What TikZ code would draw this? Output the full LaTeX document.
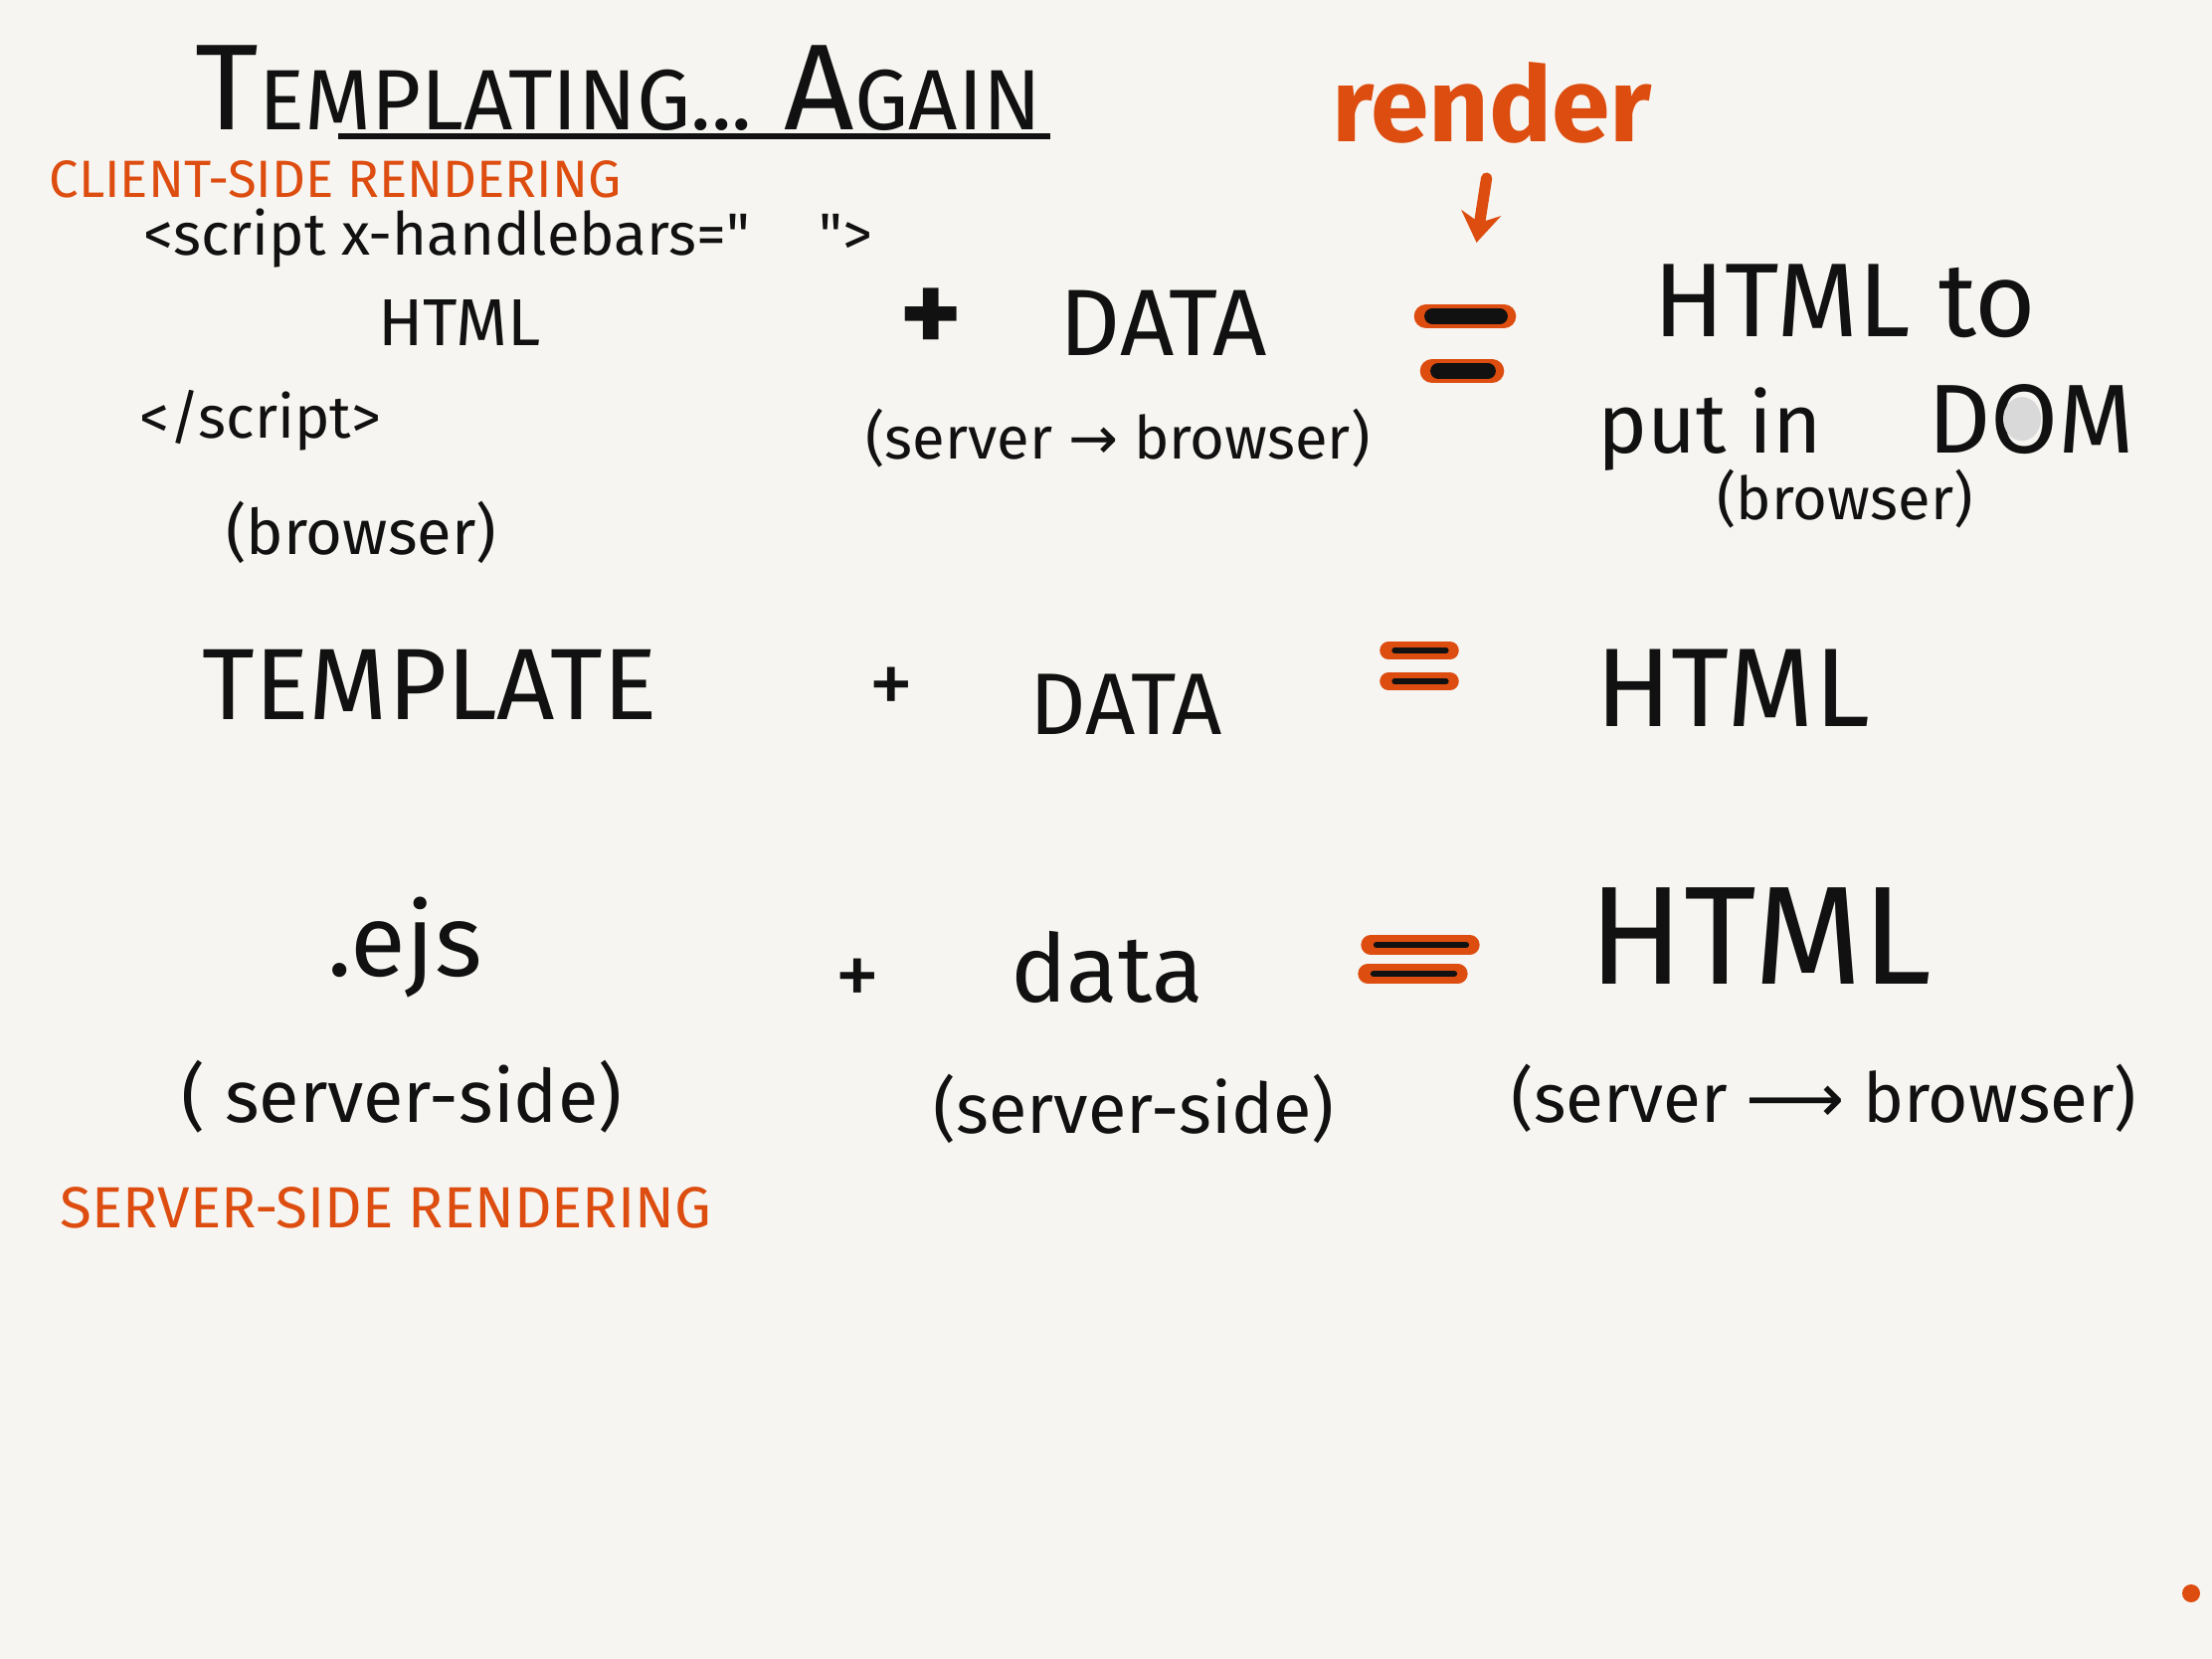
\documentclass[tikz,border=0pt]{standalone}
\usepackage{fontspec}
\setmainfont{Fira Sans}
\newfontfamily\plainfont{Fira Sans}
\newfontfamily\arrowfont{DejaVu Sans}
\usetikzlibrary{arrows.meta, positioning}
\definecolor{paper}{HTML}{F6F5F1}
\definecolor{ink}{HTML}{111111}
\definecolor{marker}{HTML}{DD4D10}
\newcommand{\handsize}[1]{\fontsize{#1}{#1}\selectfont}
\tikzset{
  hand/.style={text=ink, inner sep=0pt, anchor=base},
  note/.style={text=marker, inner sep=0pt, anchor=base},
  highlight/.style={marker, line cap=round},
  stroke/.style={ink, line cap=round},
}

\begin{document}
\begin{tikzpicture}[x=1cm, y=-1cm]
    \path[use as bounding box, fill=paper] (0, 0) rectangle (22.24, 16.68);
    % heading
    \node[hand, font=\handsize{35pt}] (title) at (6.22, 1.30) {T{\handsize{24.5pt}EMPLATING...}\ A{\handsize{24.5pt}GAIN}};
    \draw[ink, line width=1.6pt] (3.40, 1.37) -- (10.56, 1.37);
    \node[note, font=\handsize{15pt}] (client) at (3.37, 1.98) {CLIENT-SIDE RENDERING};
    \node[note, font=\bfseries\handsize{30pt}] (render) at (15.00, 1.42) {render};
    % first row
    \node[hand, font=\plainfont\handsize{17pt}] (open) at (5.11, 2.56) {<script x-handlebars="\hspace{0.7cm}">};
    \node[hand, font=\handsize{19pt}] (tplA) at (4.62, 3.47) {HTML};
    \node[hand, font=\handsize{17pt}] (close) at (2.62, 4.40) {</script>};
    \node[hand, font=\handsize{18pt}] (whereA) at (3.63, 5.57) {(browser)};
    \node[text=ink, inner sep=0pt, font=\bfseries\handsize{34pt}] (plusA) at (9.36, 3.23) {+};
    \node[hand, font=\handsize{27pt}] (dataA) at (11.70, 3.57) {DATA};
    \node[hand, font=\handsize{17pt}] (sendA) at (11.24, 4.61) {(server {\arrowfont →} browser)};
    \coordinate (eqA) at (14.73, 3.18);
    \node[hand, font=\handsize{30pt}] (outA) at (18.55, 3.38) {HTML to};
    \node[hand, font=\handsize{28pt}] (dom) at (20.42, 4.55) {DOM};
    \node[hand, font=\handsize{24pt}, anchor=base east] (put) at ([xshift=-1.05cm]dom.base west) {put in};
    \fill[gray!30] ([xshift=-0.09cm]dom.center) ellipse [x radius=0.19, y radius=0.22];
    \node[hand, font=\handsize{17pt}] (whereC) at (18.55, 5.22) {(browser)};
    \draw[marker, line width=3.2pt, line cap=round, -{Stealth[length=3mm, width=4mm]}, shorten <=3.5mm, shorten >=7.5mm] (render.south) -- (eqA);
    % second row
    \node[hand, font=\handsize{29pt}] (tplB) at (4.32, 7.23) {TEMPLATE};
    \node[text=ink, inner sep=0pt, font=\handsize{26pt}] (plusB) at (8.96, 6.95) {+};
    \node[hand, font=\handsize{25pt}] (dataB) at (11.32, 7.38) {DATA};
    \node[hand, font=\handsize{32pt}] (outB) at (17.42, 7.30) {HTML};
    % third row
    \node[hand, font=\handsize{29pt}] (tplC) at (4.07, 9.81) {.ejs};
    \node[text=ink, inner sep=0pt, font=\handsize{26pt}] (plusC) at (8.62, 9.88) {+};
    \node[hand, font=\handsize{27pt}] (dataC) at (11.13, 10.07) {data};
    \node[hand, font=\handsize{40pt}] (outC) at (17.70, 9.89) {HTML};
    \node[hand, font=\handsize{21pt}] (whereD) at (4.04, 11.28) {( server-side)};
    \node[hand, font=\handsize{20pt}] (whereE) at (11.40, 11.39) {(server-side)};
    \node[hand, font=\handsize{19.7pt}] (sendC) at (18.34, 11.28) {(server {\arrowfont ⟶} browser)};
    \node[note, font=\handsize{16.6pt}] (server) at (3.88, 12.34) {SERVER-SIDE RENDERING};
    % equals signs
    \foreach \xa/\xb/\yy/\hw/\iw in {14.34/15.12/3.18/7/4.5, 14.40/15.00/3.73/7/4.5,
        13.96/14.58/6.54/5/1.5, 13.96/14.58/6.85/5/1.5,
        13.78/14.78/9.50/5.5/1.8, 13.75/14.66/9.79/5.5/1.8} {
        \draw[highlight, line width=\hw pt] (\xa, \yy) -- (\xb, \yy);
        \draw[stroke, line width=\iw pt] (\xa+0.06, \yy) -- (\xb-0.04, \yy);
    }
    \fill[marker] (22.03, 16.02) circle (0.09);
\end{tikzpicture}
\end{document}
